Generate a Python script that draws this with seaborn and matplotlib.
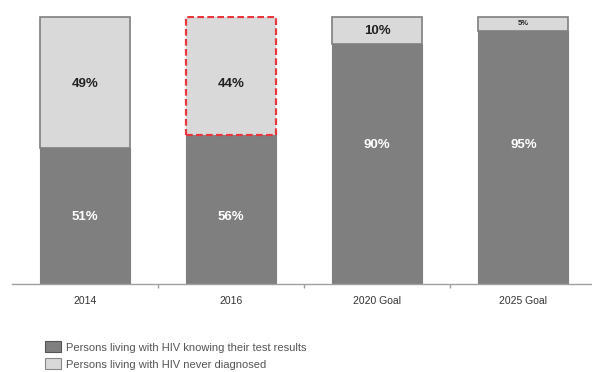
import matplotlib
matplotlib.use("Agg")
import matplotlib.pyplot as plt
from matplotlib.patches import Patch
import seaborn as sns
import pandas as pd

categories = ["2014", "2016", "2020 Goal", "2025 Goal"]
known = [51, 56, 90, 95]
never = [49, 44, 10, 5]
legend_labels = ["Persons living with HIV knowing their test results",
                 "Persons living with HIV never diagnosed"]

dark = "#7f7f7f"
light = "#d9d9d9"

sns.set_theme(style="white")
plt.rcParams["font.family"] = ["Liberation Sans", "DejaVu Sans"]

df = pd.DataFrame({"cat": categories, "known": known, "never": never})

fig = plt.figure(figsize=(5.92, 3.72), dpi=100)
ax = fig.add_axes([0.02, 0.237, 0.98, 0.72])

sns.barplot(df, x="cat", y="known", color=dark, width=0.616, saturation=1,
            edgecolor=dark, linewidth=0.8, ax=ax)
n = len(ax.patches)
sns.barplot(df, x="cat", y="never", color=light, width=0.616, saturation=1,
            edgecolor=dark, linewidth=1.2, ax=ax)
top = ax.patches[n:]
# stack the undiagnosed share on top of the known share
for p, k in zip(top, known):
    p.set_y(k)
top[1].set_edgecolor("#e8363c")
top[1].set_linestyle((0, (3, 1.5)))
top[1].set_linewidth(1.6)

for i, (k, v) in enumerate(zip(known, never)):
    # the original keeps labels level within the historical pair and the goal pair
    if k < 60:
        y_dark, y_light = 25, 75
    else:
        y_dark, y_light = 52, k + v / 2
    ax.text(i, y_dark, f"{k}%", ha="center", va="center", color="white",
            fontsize=9.5, fontweight="bold")
    fs = 9.5 if v >= 10 else 5.5
    ax.text(i, y_light, f"{v}%", ha="center", va="center", color="#222222",
            fontsize=fs, fontweight="bold")

ax.set_xlim(-0.5, 3.47)
ax.set_ylim(0, 100.5)
ax.set_xlabel("")
ax.set_ylabel("")
ax.set_yticks([])
for s in ["top", "right", "left"]:
    ax.spines[s].set_visible(False)
ax.spines["bottom"].set_color("#a0a0a0")
ax.spines["bottom"].set_linewidth(1.0)
ax.set_xticks([0.5, 1.5, 2.5], minor=True)
ax.tick_params(axis="x", which="minor", length=3, color="#a0a0a0", bottom=True)
ax.tick_params(axis="x", which="major", length=0, labelsize=7.5, colors="#333333", pad=9)

handles = [Patch(facecolor=dark, edgecolor="#555555", linewidth=0.8),
           Patch(facecolor=light, edgecolor="#888888", linewidth=0.8)]
fig.legend(handles, legend_labels, loc="upper left", bbox_to_anchor=(0.068, 0.095),
           frameon=False, fontsize=8, labelcolor="#555555", handlelength=1.5,
           handleheight=1.2, handletextpad=0.4, labelspacing=0.5, borderaxespad=0)

fig.savefig("out.png", dpi=100)
